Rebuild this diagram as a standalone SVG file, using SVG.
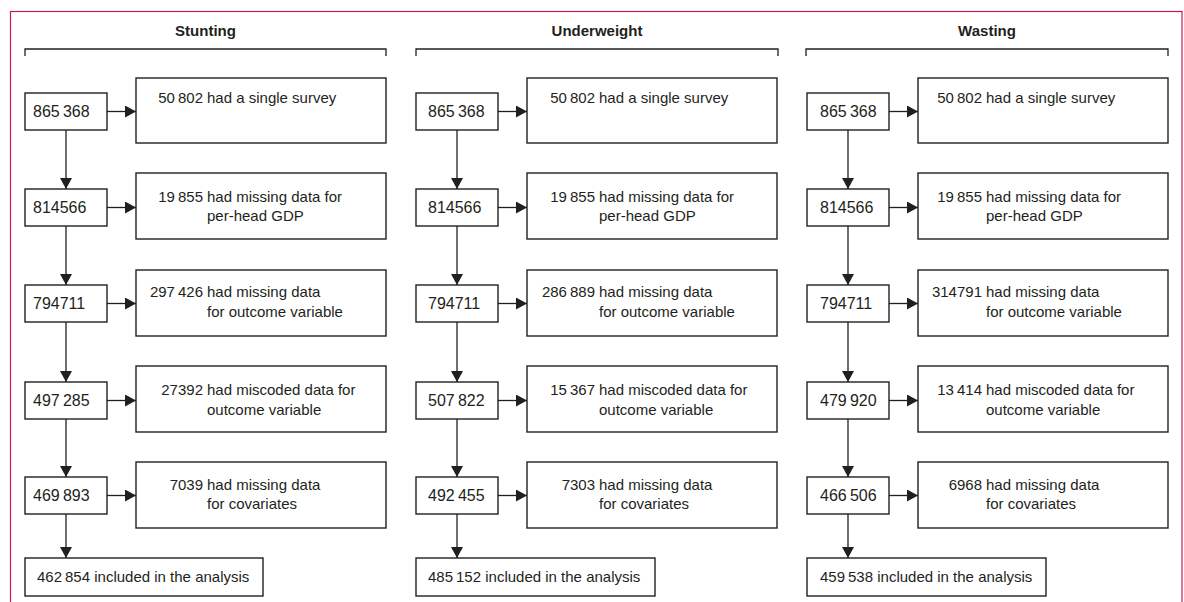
<svg xmlns="http://www.w3.org/2000/svg" width="1184" height="602" viewBox="0 0 1184 602">
<style>
.frame{fill:none;stroke:#c9195a;stroke-width:1.2}
.box{fill:#fff;stroke:#231f20;stroke-width:1.4}
.br{fill:none;stroke:#231f20;stroke-width:1.3}
.ln{fill:none;stroke:#231f20;stroke-width:1.3}
.t{font-family:"Liberation Sans",Arial,sans-serif;font-size:15px;fill:#231f20}
.n{font-family:"Liberation Sans",Arial,sans-serif;font-size:16px;fill:#231f20}
.e{text-anchor:end}
.h{font-family:"Liberation Sans",Arial,sans-serif;font-size:15px;font-weight:bold;fill:#231f20;text-anchor:middle}
</style>
<defs>
<marker id="ah" viewBox="0 0 11 12" refX="11" refY="6" markerWidth="11" markerHeight="12" markerUnits="userSpaceOnUse" orient="auto">
<path d="M0,0 L11,6 L0,12 z" fill="#231f20"/>
</marker>
</defs>
<rect class="frame" x="10.5" y="11.5" width="1171.5" height="620"/>

<g id="headers">
<text class="h" x="205.5" y="36">Stunting</text>
<path class="br" d="M25,56 V49 H386 V56"/>
<text class="h" x="597" y="36">Underweight</text>
<path class="br" d="M416,56 V49 H778 V56"/>
<text class="h" x="987" y="36">Wasting</text>
<path class="br" d="M806,56 V49 H1168 V56"/>
</g>

<g id="connectors">
<path class="ln" d="M66,130 V189" marker-end="url(#ah)"/>
<path class="ln" d="M66,226 V285" marker-end="url(#ah)"/>
<path class="ln" d="M66,322 V382" marker-end="url(#ah)"/>
<path class="ln" d="M66,419 V477" marker-end="url(#ah)"/>
<path class="ln" d="M66,514 V558" marker-end="url(#ah)"/>
<path class="ln" d="M107,111.5 H136" marker-end="url(#ah)"/>
<path class="ln" d="M107,207.5 H136" marker-end="url(#ah)"/>
<path class="ln" d="M107,303.5 H136" marker-end="url(#ah)"/>
<path class="ln" d="M107,400.5 H136" marker-end="url(#ah)"/>
<path class="ln" d="M107,495.5 H136" marker-end="url(#ah)"/>
<path class="ln" d="M457,130 V189" marker-end="url(#ah)"/>
<path class="ln" d="M457,226 V285" marker-end="url(#ah)"/>
<path class="ln" d="M457,322 V382" marker-end="url(#ah)"/>
<path class="ln" d="M457,419 V477" marker-end="url(#ah)"/>
<path class="ln" d="M457,514 V558" marker-end="url(#ah)"/>
<path class="ln" d="M498,111.5 H527" marker-end="url(#ah)"/>
<path class="ln" d="M498,207.5 H527" marker-end="url(#ah)"/>
<path class="ln" d="M498,303.5 H527" marker-end="url(#ah)"/>
<path class="ln" d="M498,400.5 H527" marker-end="url(#ah)"/>
<path class="ln" d="M498,495.5 H527" marker-end="url(#ah)"/>
<path class="ln" d="M848,130 V189" marker-end="url(#ah)"/>
<path class="ln" d="M848,226 V285" marker-end="url(#ah)"/>
<path class="ln" d="M848,322 V382" marker-end="url(#ah)"/>
<path class="ln" d="M848,419 V477" marker-end="url(#ah)"/>
<path class="ln" d="M848,514 V558" marker-end="url(#ah)"/>
<path class="ln" d="M889,111.5 H918" marker-end="url(#ah)"/>
<path class="ln" d="M889,207.5 H918" marker-end="url(#ah)"/>
<path class="ln" d="M889,303.5 H918" marker-end="url(#ah)"/>
<path class="ln" d="M889,400.5 H918" marker-end="url(#ah)"/>
<path class="ln" d="M889,495.5 H918" marker-end="url(#ah)"/>
</g>

<!-- Column 1: Stunting -->
<g id="s-n1"><rect class="box" x="25" y="93" width="82" height="37"/><text class="n" x="33" y="117">865&#8201;368</text></g>
<g id="s-e1"><rect class="box" x="136" y="78" width="250" height="65"/><text class="t e" x="203" y="103">50&#8201;802</text><text class="t" x="207" y="103">had a single survey</text></g>
<g id="s-n2"><rect class="box" x="25" y="189" width="82" height="37"/><text class="n" x="33" y="213">814566</text></g>
<g id="s-e2"><rect class="box" x="136" y="173" width="250" height="66"/><text class="t e" x="203" y="202">19&#8201;855</text><text class="t" x="207" y="202">had missing data for</text><text class="t" x="207" y="221">per-head GDP</text></g>
<g id="s-n3"><rect class="box" x="25" y="285" width="82" height="37"/><text class="n" x="33" y="309">794711</text></g>
<g id="s-e3"><rect class="box" x="136" y="270" width="250" height="66"/><text class="t e" x="203" y="297">297&#8201;426</text><text class="t" x="207" y="297">had missing data</text><text class="t" x="207" y="317">for outcome variable</text></g>
<g id="s-n4"><rect class="box" x="25" y="382" width="82" height="37"/><text class="n" x="33" y="406">497&#8201;285</text></g>
<g id="s-e4"><rect class="box" x="136" y="366" width="250" height="66"/><text class="t e" x="203" y="395">27392</text><text class="t" x="207" y="395">had miscoded data for</text><text class="t" x="207" y="415">outcome variable</text></g>
<g id="s-n5"><rect class="box" x="25" y="477" width="82" height="37"/><text class="n" x="33" y="501">469&#8201;893</text></g>
<g id="s-e5"><rect class="box" x="136" y="462" width="250" height="66"/><text class="t e" x="203" y="490">7039</text><text class="t" x="207" y="490">had missing data</text><text class="t" x="207" y="509">for covariates</text></g>
<g id="s-final"><rect class="box" x="25" y="558" width="238" height="38"/><text class="t" x="37" y="582">462&#8201;854 included in the analysis</text></g>

<!-- Column 2: Underweight -->
<g id="u-n1"><rect class="box" x="416" y="93" width="82" height="37"/><text class="n" x="428" y="117">865&#8201;368</text></g>
<g id="u-e1"><rect class="box" x="527" y="78" width="250" height="65"/><text class="t e" x="595" y="103">50&#8201;802</text><text class="t" x="599" y="103">had a single survey</text></g>
<g id="u-n2"><rect class="box" x="416" y="189" width="82" height="37"/><text class="n" x="428" y="213">814566</text></g>
<g id="u-e2"><rect class="box" x="527" y="173" width="250" height="66"/><text class="t e" x="595" y="202">19&#8201;855</text><text class="t" x="599" y="202">had missing data for</text><text class="t" x="599" y="221">per-head GDP</text></g>
<g id="u-n3"><rect class="box" x="416" y="285" width="82" height="37"/><text class="n" x="428" y="309">794711</text></g>
<g id="u-e3"><rect class="box" x="527" y="270" width="250" height="66"/><text class="t e" x="595" y="297">286&#8201;889</text><text class="t" x="599" y="297">had missing data</text><text class="t" x="599" y="317">for outcome variable</text></g>
<g id="u-n4"><rect class="box" x="416" y="382" width="82" height="37"/><text class="n" x="428" y="406">507&#8201;822</text></g>
<g id="u-e4"><rect class="box" x="527" y="366" width="250" height="66"/><text class="t e" x="595" y="395">15&#8201;367</text><text class="t" x="599" y="395">had miscoded data for</text><text class="t" x="599" y="415">outcome variable</text></g>
<g id="u-n5"><rect class="box" x="416" y="477" width="82" height="37"/><text class="n" x="428" y="501">492&#8201;455</text></g>
<g id="u-e5"><rect class="box" x="527" y="462" width="250" height="66"/><text class="t e" x="595" y="490">7303</text><text class="t" x="599" y="490">had missing data</text><text class="t" x="599" y="509">for covariates</text></g>
<g id="u-final"><rect class="box" x="416" y="558" width="239" height="38"/><text class="t" x="428" y="582">485&#8201;152 included in the analysis</text></g>

<!-- Column 3: Wasting -->
<g id="w-n1"><rect class="box" x="807" y="93" width="82" height="37"/><text class="n" x="820" y="117">865&#8201;368</text></g>
<g id="w-e1"><rect class="box" x="918" y="78" width="250" height="65"/><text class="t e" x="982" y="103">50&#8201;802</text><text class="t" x="986" y="103">had a single survey</text></g>
<g id="w-n2"><rect class="box" x="807" y="189" width="82" height="37"/><text class="n" x="820" y="213">814566</text></g>
<g id="w-e2"><rect class="box" x="918" y="173" width="250" height="66"/><text class="t e" x="982" y="202">19&#8201;855</text><text class="t" x="986" y="202">had missing data for</text><text class="t" x="986" y="221">per-head GDP</text></g>
<g id="w-n3"><rect class="box" x="807" y="285" width="82" height="37"/><text class="n" x="820" y="309">794711</text></g>
<g id="w-e3"><rect class="box" x="918" y="270" width="250" height="66"/><text class="t e" x="982" y="297">314791</text><text class="t" x="986" y="297">had missing data</text><text class="t" x="986" y="317">for outcome variable</text></g>
<g id="w-n4"><rect class="box" x="807" y="382" width="82" height="37"/><text class="n" x="820" y="406">479&#8201;920</text></g>
<g id="w-e4"><rect class="box" x="918" y="366" width="250" height="66"/><text class="t e" x="982" y="395">13&#8201;414</text><text class="t" x="986" y="395">had miscoded data for</text><text class="t" x="986" y="415">outcome variable</text></g>
<g id="w-n5"><rect class="box" x="807" y="477" width="82" height="37"/><text class="n" x="820" y="501">466&#8201;506</text></g>
<g id="w-e5"><rect class="box" x="918" y="462" width="250" height="66"/><text class="t e" x="982" y="490">6968</text><text class="t" x="986" y="490">had missing data</text><text class="t" x="986" y="509">for covariates</text></g>
<g id="w-final"><rect class="box" x="807" y="558" width="239" height="38"/><text class="t" x="820" y="582">459&#8201;538 included in the analysis</text></g>
</svg>
